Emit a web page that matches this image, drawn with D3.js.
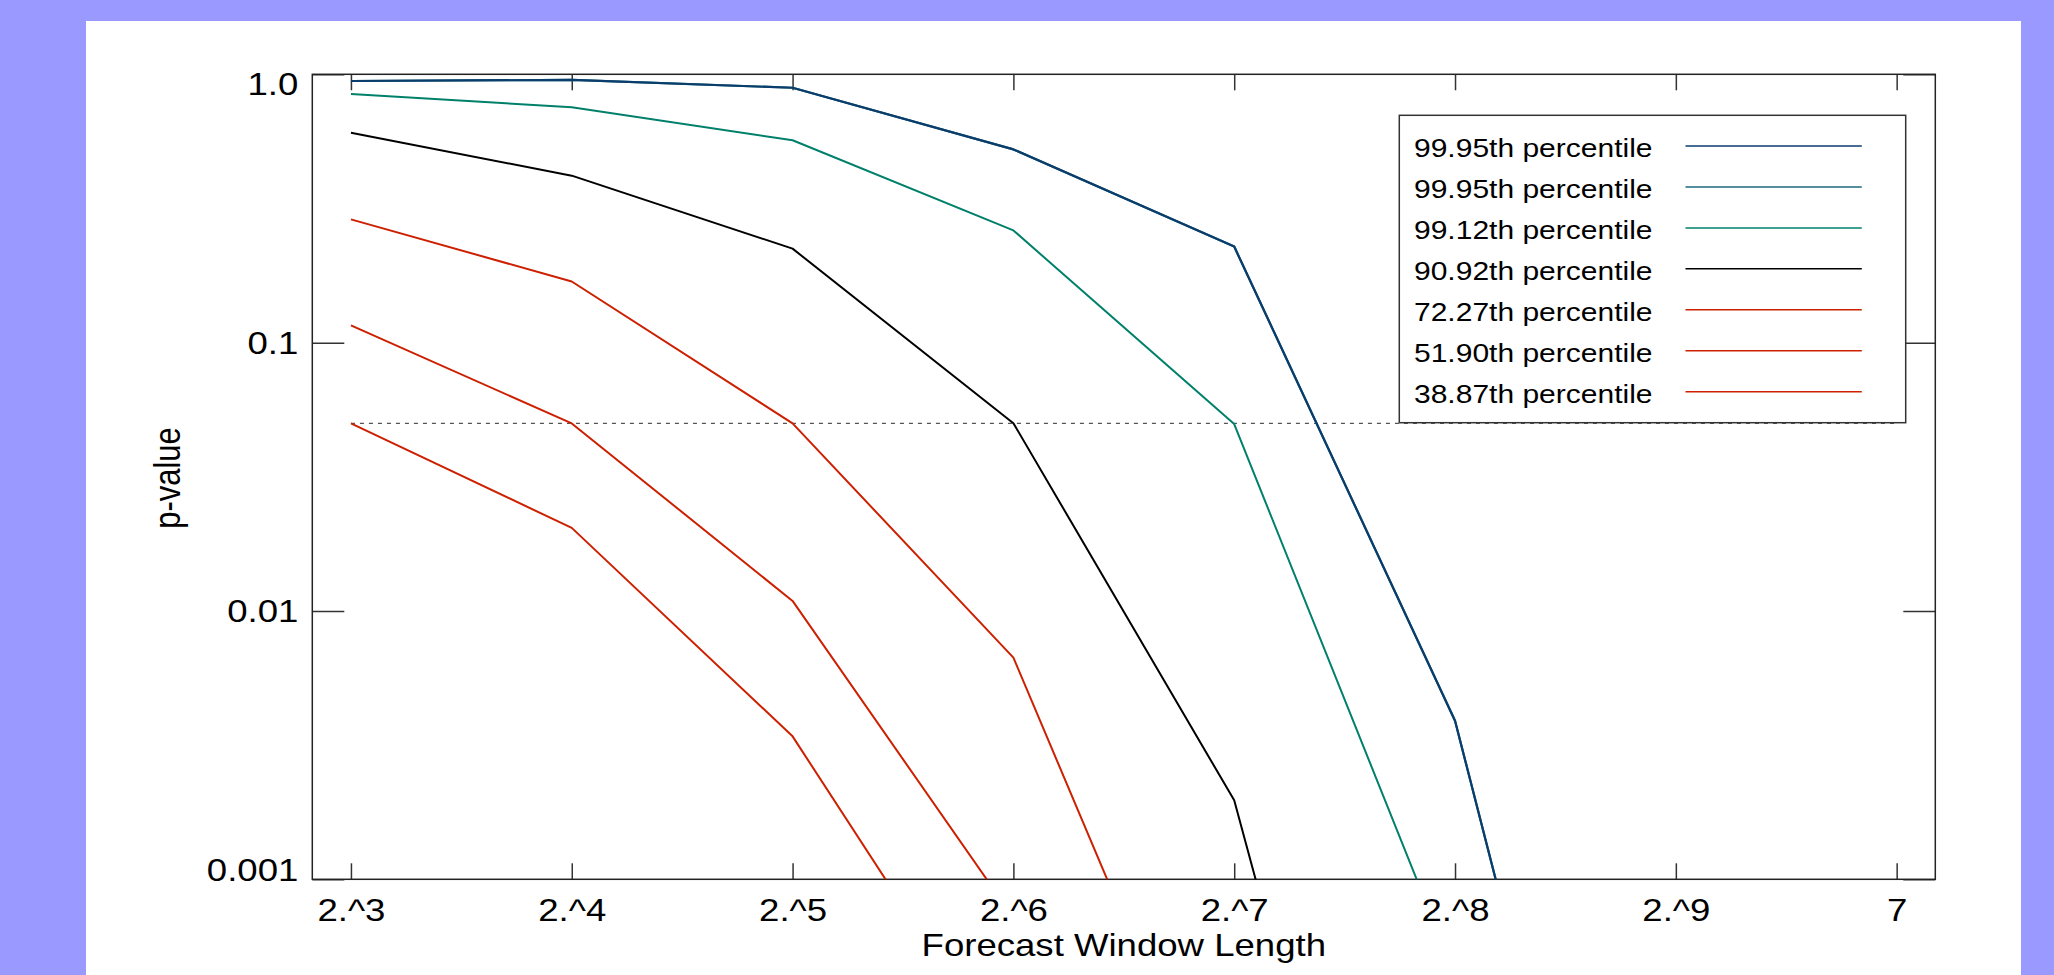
<!DOCTYPE html>
<html>
<head>
<meta charset="utf-8">
<script src="https://cdn.jsdelivr.net/npm/d3@7"></script>
<style>
  body { margin: 0; background: #9999ff; }
  svg { display: block; }
  text { font-family: 'Liberation Sans', Arial, sans-serif; fill: #000; }
</style>
</head>
<body>
<div id="chart"></div>
<script>
// x positions are powers of two: 2.^3 ... 2.^9, last tick is labelled "7"
const xExponents = [3, 4, 5, 6, 7, 8, 9];
const xTickValues = [3, 4, 5, 6, 7, 8, 9, 10];
const xTickLabels = ['2.^3', '2.^4', '2.^5', '2.^6', '2.^7', '2.^8', '2.^9', '7'];
const yTickValues = [0.001, 0.01, 0.1, 1];
const yTickLabels = ['0.001', '0.01', '0.1', '1.0'];
const threshold = 0.05;

const seriesNames = [
  '99.95th percentile',
  '99.95th percentile',
  '99.12th percentile',
  '90.92th percentile',
  '72.27th percentile',
  '51.90th percentile',
  '38.87th percentile'
];
const seriesColors = ['#0b3d6c', '#1d6a7c', '#00806b', '#000000', '#cc2000', '#cc2000', '#cc2000'];

// p-values (points below 0.001 run out of the frame)
const p9995a = [0.944, 0.953, 0.891, 0.525, 0.228, 0.0039, 0.0000024];
const p9995b = [0.944, 0.953, 0.891, 0.525, 0.228, 0.0039, 0.0000024];
const p9912 = [0.845, 0.753, 0.568, 0.262, 0.0497, 0.00044];
const p9092 = [0.606, 0.419, 0.224, 0.0501, 0.00197, 0.0000018];
const p7227 = [0.288, 0.169, 0.05, 0.0067, 0.000076];
const p5190 = [0.116, 0.05, 0.0109, 0.00072];
const p3887 = [0.05, 0.0204, 0.00341, 0.000185];
const seriesValues = [p9995a, p9995b, p9912, p9092, p7227, p5190, p3887];

const W = 2054, H = 975;
const plot = { left: 312.3, right: 1935.3, top: 74.3, bottom: 879.3 };
const stretch = 1.18; // text in the picture is widened

const svg = d3.select('#chart').append('svg')
  .attr('width', W).attr('height', H);

svg.append('rect')
  .attr('x', 86).attr('y', 21)
  .attr('width', 2021 - 86).attr('height', H - 21)
  .attr('fill', '#ffffff');

const x = d3.scaleLinear()
  .domain([2.825, 10.175])
  .range([plot.left, plot.right]);

const y = d3.scaleLog()
  .domain([0.001, 1])
  .range([plot.bottom, plot.top]);

svg.append('defs').append('clipPath').attr('id', 'plotclip')
  .append('rect')
  .attr('x', plot.left).attr('y', plot.top)
  .attr('width', plot.right - plot.left)
  .attr('height', plot.bottom - plot.top);

// axes, ticks inward on all four sides
const bottomAxis = svg.append('g')
  .attr('transform', `translate(0,${plot.bottom})`)
  .call(d3.axisBottom(x).tickValues(xTickValues).tickSize(-16).tickSizeOuter(0)
    .tickFormat((d, i) => xTickLabels[i]));
bottomAxis.selectAll('text')
  .attr('y', 42).attr('dy', 0)
  .attr('transform', `scale(${stretch},1)`)
  .style('font-size', '31px');

const topAxis = svg.append('g')
  .attr('transform', `translate(0,${plot.top})`)
  .call(d3.axisTop(x).tickValues(xTickValues).tickSize(-16).tickSizeOuter(0).tickFormat(''));

const leftAxis = svg.append('g')
  .attr('transform', `translate(${plot.left},0)`)
  .call(d3.axisLeft(y).tickValues(yTickValues).tickSize(-32).tickSizeOuter(0)
    .tickFormat((d, i) => yTickLabels[i]));
leftAxis.selectAll('text')
  .attr('x', -14 / stretch)
  .attr('dy', 0)
  .attr('y', d => {
    const ty = y(d);
    const base = Math.max(plot.top + 20, Math.min(plot.bottom + 0.7, ty + 11));
    return base - ty;
  })
  .attr('transform', `scale(${stretch},1)`)
  .style('font-size', '31px');

const rightAxis = svg.append('g')
  .attr('transform', `translate(${plot.right},0)`)
  .call(d3.axisRight(y).tickValues(yTickValues).tickSize(-32).tickSizeOuter(0).tickFormat(''));

[bottomAxis, topAxis, leftAxis, rightAxis].forEach(g => {
  g.select('.domain').remove();
  g.selectAll('.tick line').attr('stroke', '#333').attr('stroke-width', 1.5);
});

// frame
svg.append('rect')
  .attr('x', plot.left).attr('y', plot.top)
  .attr('width', plot.right - plot.left)
  .attr('height', plot.bottom - plot.top)
  .attr('fill', 'none')
  .attr('stroke', '#222')
  .attr('stroke-width', 1.5);

// axis titles
svg.append('text')
  .attr('transform', `translate(${(plot.left + plot.right) / 2},956) scale(${stretch},1)`)
  .attr('text-anchor', 'middle')
  .style('font-size', '31px')
  .text('Forecast Window Length');

svg.append('text')
  .attr('transform', `translate(180,478) scale(${stretch},1) rotate(-90)`)
  .attr('text-anchor', 'middle')
  .style('font-size', '31px')
  .text('p-value');

// 0.05 reference line
svg.append('line')
  .attr('x1', x(3)).attr('x2', x(10))
  .attr('y1', y(threshold)).attr('y2', y(threshold))
  .attr('stroke', '#555')
  .attr('stroke-width', 1.3)
  .attr('stroke-dasharray', '4,5');

// series lines (drawn bottom-up so navy is on top)
const line = d3.line()
  .x((d, i) => x(xExponents[i]))
  .y(d => y(d));

const lines = svg.append('g').attr('clip-path', 'url(#plotclip)');
for (let s = seriesValues.length - 1; s >= 0; s--) {
  lines.append('path')
    .datum(seriesValues[s])
    .attr('d', line)
    .attr('fill', 'none')
    .attr('stroke', seriesColors[s])
    .attr('stroke-width', s < 2 ? 2.2 : 2)
    .attr('stroke-linejoin', 'round');
}

// legend
const legend = svg.append('g');
legend.append('rect')
  .attr('x', 1399.3).attr('y', 115.3)
  .attr('width', 1905.7 - 1399.3).attr('height', 422.7 - 115.3)
  .attr('fill', '#fff')
  .attr('stroke', '#333')
  .attr('stroke-width', 1.5);

seriesNames.forEach((name, i) => {
  const ly = 146 + i * 40.95;
  legend.append('text')
    .attr('transform', `translate(1414,${ly + 11}) scale(1.2,1)`)
    .style('font-size', '25px')
    .text(name);
  legend.append('line')
    .attr('x1', 1685.5).attr('x2', 1861.8)
    .attr('y1', ly).attr('y2', ly)
    .attr('stroke', seriesColors[i])
    .attr('stroke-width', 1.5);
});
</script>
</body>
</html>
